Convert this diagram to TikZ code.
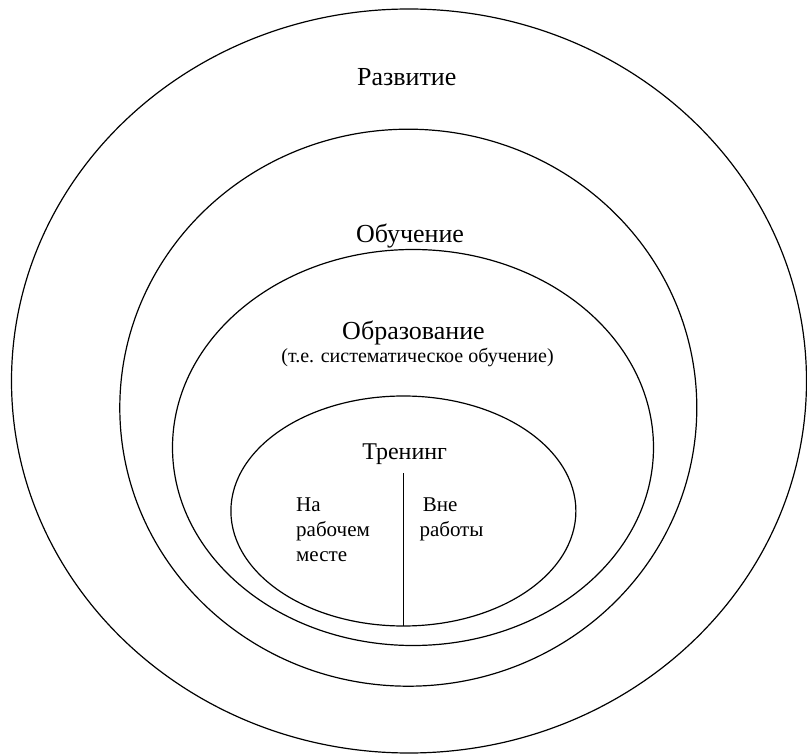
\documentclass[tikz,border=0pt]{standalone}
\usepackage{fontspec}
\setmainfont{Liberation Serif}
\usetikzlibrary{shapes.geometric}
\begin{document}
\begin{tikzpicture}[x=1pt,y=-1pt,
  ring/.style={draw, ellipse, line width=1.2pt, inner sep=0pt, outer sep=0pt},
  big/.style={font=\fontsize{26}{30}\selectfont, inner sep=0pt, anchor=base},
  mid/.style={font=\fontsize{24}{28}\selectfont, inner sep=0pt, anchor=base},
  small/.style={font=\fontsize{21}{25}\selectfont, inner sep=0pt, anchor=base west},
  sub/.style={font=\fontsize{20}{24}\selectfont, inner sep=0pt, anchor=base}]
\useasboundingbox (0,0) rectangle (807,754);
\node[ring, minimum width=795pt, minimum height=744pt] (dev) at (409,381) {};
\node[ring, minimum width=577pt, minimum height=557pt] (learn) at (408.3,407.7) {};
\node[ring, minimum width=481pt, minimum height=396pt] (edu) at (413,447.5) {};
\node[ring, minimum width=345pt, minimum height=230pt] (train) at (403.4,511) {};
\node[big] (tdev) at (406.7,86) {Развитие};
\node[big] (tlearn) at (410,243) {Обучение};
\node[big] (tedu) at (413.5,339.3) {Образование};
\node[sub] (tedu2) at (417.5,362.3) {(т.е. систематическое обучение)};
\node[mid] (ttrain) at (404.7,460) {Тренинг};
\coordinate (top) at (403.5,473);
\draw[line width=1.2pt] (top) -- (top |- train.south);
\node[small] (l1) at (296,511.7) {На};
\node[small] (l2) at (296,536.7) {рабочем};
\node[small] (l3) at (296,561.7) {месте};
\node[small] (r1) at (422.7,511.7) {Вне};
\node[small] (r2) at (419.3,536.7) {работы};
\end{tikzpicture}
\end{document}
